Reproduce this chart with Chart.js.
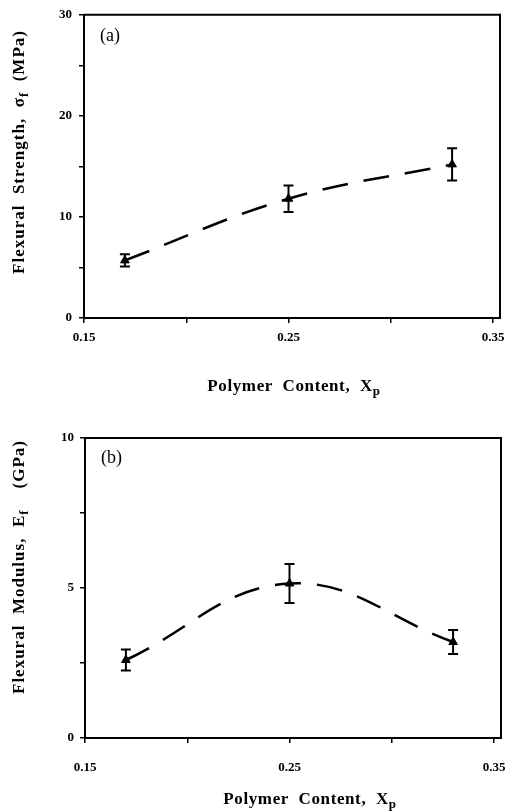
<!DOCTYPE html>
<html>
<head>
<meta charset="utf-8">
<script src="https://cdn.jsdelivr.net/npm/chart.js@4.4.1/dist/chart.umd.min.js"></script>
<style>
  html, body { margin: 0; padding: 0; background: #fff; }
  canvas { display: block; }
</style>
</head>
<body>
<canvas id="chartA" width="505" height="400"></canvas>
<canvas id="chartB" width="505" height="411"></canvas>
<script>
"use strict";

// polymer content of the three mixes
var xContent = [0.17, 0.25, 0.33];

// (a) flexural strength, MPa
var strengthMean = [5.7, 11.8, 15.2];
var strengthErr = [0.6, 1.3, 1.6];

// (b) flexural modulus, GPa
var modulusMean = [2.6, 5.15, 3.2];
var modulusErr = [0.35, 0.65, 0.4];

// tick values and labels
var xTickValues = [0.15, 0.20, 0.25, 0.30, 0.35];
var xTickLabels = ['0.15', '', '0.25', '', '0.35'];
var strengthTickValues = [0, 5, 10, 15, 20, 25, 30];
var strengthTickLabels = ['0', '', '10', '', '20', '', '30'];
var modulusTickValues = [0, 2.5, 5, 7.5, 10];
var modulusTickLabels = ['0', '', '5', '', '10'];

var SERIF = '"Liberation Serif", "Times New Roman", serif';

// text pieces with optional subscript, drawn centred on (x, y)
var drawRich = function (ctx, parts, x, y, rotate, size, spacing) {
    var big = 'bold ' + size + 'px ' + SERIF,
        small = 'bold ' + Math.round(size * 0.75) + 'px ' + SERIF,
        total = 0;
    ctx.save();
    ctx.letterSpacing = spacing + 'px';
    parts.forEach(function (p) {
        ctx.font = p.sub ? small : big;
        total += ctx.measureText(p.t).width;
    });
    ctx.translate(x, y);
    if (rotate) {
        ctx.rotate(-Math.PI / 2);
    }
    ctx.fillStyle = '#000';
    ctx.textBaseline = 'middle';
    ctx.textAlign = 'left';
    var cx = -total / 2;
    parts.forEach(function (p) {
        ctx.font = p.sub ? small : big;
        ctx.fillText(p.t, cx, p.sub ? size * 0.3 : 0);
        cx += ctx.measureText(p.t).width;
    });
    ctx.restore();
};

var framePlugin = {
    id: 'frame',
    afterDraw: function (chart) {
        var o = chart.options.plugins.frame,
            a = chart.chartArea,
            ctx = chart.ctx;
        ctx.save();
        ctx.strokeStyle = '#000';
        ctx.lineWidth = 2;
        ctx.beginPath();
        ctx.moveTo(a.left, a.top);
        ctx.lineTo(a.right + 7, a.top);
        ctx.lineTo(a.right + 7, a.bottom);
        ctx.lineTo(a.left, a.bottom);
        ctx.stroke();
        ctx.restore();

        ctx.save();
        ctx.fillStyle = '#000';
        ctx.font = '18px ' + SERIF;
        ctx.textBaseline = 'middle';
        ctx.fillText(o.panel, a.left + 16, a.top + o.panelDy);
        ctx.restore();

        drawRich(ctx, o.yTitle, o.yTitleX, o.yTitleY, true, 17, 1);
        drawRich(ctx, o.xTitle, o.xTitleX, o.xTitleY, false, 17, 0.6);
    }
};

var errorBarPlugin = {
    id: 'errorBars',
    afterDatasetsDraw: function (chart) {
        var o = chart.options.plugins.errorBars,
            xs = chart.scales.x,
            ys = chart.scales.y,
            ctx = chart.ctx;
        ctx.save();
        ctx.strokeStyle = '#000';
        ctx.lineWidth = 2;
        o.means.forEach(function (m, i) {
            var px = xs.getPixelForValue(xContent[i]),
                top = ys.getPixelForValue(m + o.errors[i]),
                bot = ys.getPixelForValue(m - o.errors[i]);
            ctx.beginPath();
            ctx.moveTo(px, top);
            ctx.lineTo(px, bot);
            ctx.moveTo(px - 5, top);
            ctx.lineTo(px + 5, top);
            ctx.moveTo(px - 5, bot);
            ctx.lineTo(px + 5, bot);
            ctx.stroke();
        });
        ctx.restore();
    }
};

var makeChart = function (options) {
    var points = xContent.map(function (x, i) {
        return {x: x, y: options.means[i]};
    });
    return new Chart(document.getElementById(options.id), {
        type: 'scatter',
        data: {
            datasets: [{
                data: points,
                showLine: true,
                borderColor: '#000',
                borderWidth: 2.5,
                borderDash: [26, 16],
                tension: 0.4,
                pointStyle: 'triangle',
                pointRadius: 5,
                pointBackgroundColor: '#000',
                pointBorderColor: '#000',
                pointBorderWidth: 1
            }]
        },
        options: {
            responsive: false,
            animation: false,
            devicePixelRatio: 1,
            layout: {padding: {top: options.padTop, right: options.padRight, left: 0, bottom: 0}},
            plugins: {
                legend: {display: false},
                tooltip: {enabled: false},
                frame: options.frame,
                errorBars: {means: options.means, errors: options.errors}
            },
            scales: {
                x: {
                    type: 'linear',
                    min: 0.15,
                    max: 0.35,
                    afterBuildTicks: function (scale) {
                        scale.ticks = xTickValues.map(function (v) { return {value: v}; });
                    },
                    afterFit: function (scale) {
                        scale.height = options.xHeight;
                        scale.paddingLeft = 0;
                        scale.paddingRight = 0;
                    },
                    grid: {drawOnChartArea: false, color: '#000', lineWidth: 1.5, tickLength: 5},
                    border: {display: true, color: '#000', width: 2},
                    ticks: {
                        color: '#000',
                        padding: options.xPad,
                        maxRotation: 0,
                        autoSkip: false,
                        font: {family: SERIF, size: 13, weight: 'bold'},
                        callback: function (v, i) { return xTickLabels[i]; }
                    }
                },
                y: {
                    type: 'linear',
                    min: options.yTicks[0],
                    max: options.yTicks[options.yTicks.length - 1],
                    afterBuildTicks: function (scale) {
                        scale.ticks = options.yTicks.map(function (v) { return {value: v}; });
                    },
                    afterFit: function (scale) { scale.width = options.yWidth; },
                    grid: {drawOnChartArea: false, color: '#000', lineWidth: 1.5, tickLength: 5},
                    border: {display: true, color: '#000', width: 2},
                    ticks: {
                        color: '#000',
                        padding: options.yPad,
                        autoSkip: false,
                        font: {family: SERIF, size: 13, weight: 'bold'},
                        callback: function (v, i) { return options.yLabels[i]; }
                    }
                }
            }
        },
        plugins: [framePlugin, errorBarPlugin]
    });
};

Chart.defaults.font.family = SERIF;

makeChart({
    id: 'chartA',
    means: strengthMean,
    errors: strengthErr,
    yTicks: strengthTickValues,
    yLabels: strengthTickLabels,
    padTop: 14,
    padRight: 12,
    yWidth: 84,
    xHeight: 82,
    xPad: 7,
    yPad: 7,
    frame: {
        panel: '(a)',
        panelDy: 21,
        yTitle: [{t: 'Flexural  Strength,  '}, {t: 'σ'}, {t: 'f', sub: true}, {t: '  (MPa)'}],
        yTitleX: 20,
        yTitleY: 152,
        xTitle: [{t: 'Polymer  Content,  X'}, {t: 'p', sub: true}],
        xTitleX: 294,
        xTitleY: 387
    }
});

makeChart({
    id: 'chartB',
    means: modulusMean,
    errors: modulusErr,
    yTicks: modulusTickValues,
    yLabels: modulusTickLabels,
    padTop: 38,
    padRight: 11,
    yWidth: 85,
    xHeight: 73,
    xPad: 17,
    yPad: 6,
    frame: {
        panel: '(b)',
        panelDy: 20,
        yTitle: [{t: 'Flexural  Modulus,  E'}, {t: 'f', sub: true}, {t: '    (GPa)'}],
        yTitleX: 20,
        yTitleY: 167,
        xTitle: [{t: 'Polymer  Content,  X'}, {t: 'p', sub: true}],
        xTitleX: 310,
        xTitleY: 400
    }
});
</script>
</body>
</html>
